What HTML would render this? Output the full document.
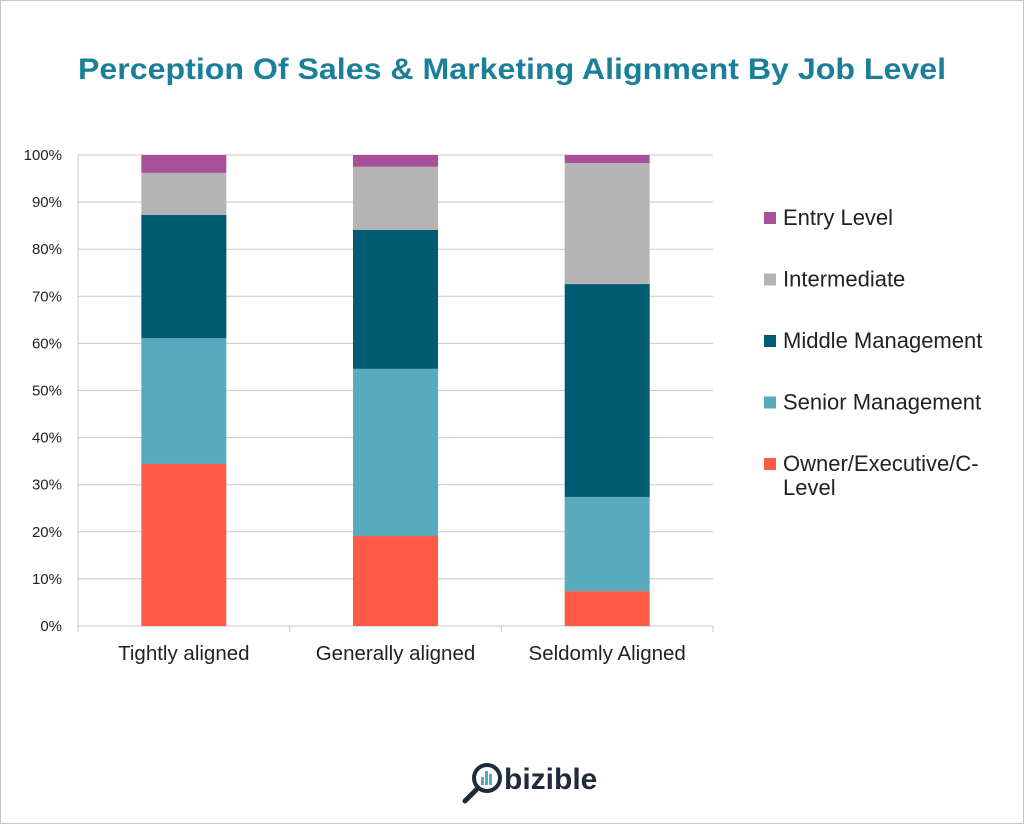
<!DOCTYPE html>
<html><head><meta charset="utf-8"><style>
body{margin:0;background:#fff;}
svg{display:block;font-family:"Liberation Sans",sans-serif;}
</style></head><body>
<svg id="chart" width="1024" height="824" viewBox="0 0 1024 824">
<rect x="0.5" y="0.5" width="1023" height="823" fill="#fff" stroke="#c8c8c8"/>
<text x="512" y="79" text-anchor="middle" font-size="30" font-weight="bold" fill="#1b7f99" textLength="868" lengthAdjust="spacingAndGlyphs">Perception Of Sales &amp; Marketing Alignment By Job Level</text>
<g id="grid"></g>
<g id="bars"></g>
<g id="legend"></g>
<g>
<circle cx="487" cy="778" r="13" fill="none" stroke="#1f2b3a" stroke-width="4"/>
<line x1="478" y1="788" x2="465" y2="801" stroke="#1f2b3a" stroke-width="5" stroke-linecap="round"/>
<rect x="481" y="777" width="3" height="8" fill="#58abbd"/><rect x="485" y="771" width="3" height="14" fill="#58abbd"/><rect x="489" y="774" width="3" height="11" fill="#58abbd"/>
<text x="504" y="789" font-size="30" font-weight="bold" fill="#1f2b3a">bizible</text>
</g>
</svg>
<script>
const categories=["Tightly aligned","Generally aligned","Seldomly Aligned"];
const seriesNames=["Owner/Executive/C-Level","Senior Management","Middle Management","Intermediate","Entry Level"];
const ownerVals=[34.4,19.1,7.4];
const seniorVals=[26.7,35.5,20.0];
const middleVals=[26.2,29.5,45.2];
const intermediateVals=[8.9,13.4,25.7];
const entryVals=[3.8,2.5,1.7];
const yTicks=[0,10,20,30,40,50,60,70,80,90,100];
const colors=["#fe5a45","#58abbd","#005a72","#b4b4b4","#a9509b"];
const series=[ownerVals,seniorVals,middleVals,intermediateVals,entryVals];
const NS="http://www.w3.org/2000/svg";
const X0=78,X1=713,Y0=626,Y1=155;
const y=v=>Y0-(v/100)*(Y0-Y1);
const band=(X1-X0)/categories.length;
const xc=i=>X0+band*(i+0.5);
const barW=85;
function mk(tag,attrs,parent){const e=document.createElementNS(NS,tag);for(const k in attrs)e.setAttribute(k,attrs[k]);parent.appendChild(e);return e;}
const grid=document.getElementById('grid');
yTicks.forEach(t=>{
 const l=mk('line',{x1:X0,x2:X1,y1:y(t),y2:y(t),stroke:'#c8c8c8','stroke-width':1},grid);
 
 
 const tx=mk('text',{x:X0-16,y:y(t)+5,'text-anchor':'end','font-size':15,fill:'#222'},grid);
 tx.textContent=t+'%';
 
 
});
const ax=mk('line',{x1:X0,x2:X0,y1:Y1,y2:Y0,stroke:'#c8c8c8'},grid);


for(let i=0;i<=categories.length;i++){
 const tk=mk('line',{x1:X0+band*i,x2:X0+band*i,y1:Y0,y2:Y0+6,stroke:'#c8c8c8'},grid);
 
 
}
const bars=document.getElementById('bars');
categories.forEach((c,i)=>{
 let acc=0;
 series.forEach((s,j)=>{
  const r=mk('rect',{x:xc(i)-barW/2,y:y(acc+s[i]),width:barW,height:y(acc)-y(acc+s[i]),fill:colors[j]},bars);
  
  
  acc+=s[i];
 });
 const t=mk('text',{x:xc(i),y:660,'text-anchor':'middle','font-size':20.5,fill:'#222'},bars);
 t.textContent=c;
 
 
});
const lg=document.getElementById('legend');
const order=[4,3,2,1,0];
order.forEach((j,k)=>{
 const ly=218+k*61.5;
 const g=mk('g',{},lg);
 
 
 mk('rect',{x:764,y:ly-6,width:12,height:12,fill:colors[j]},g);
 const t=mk('text',{x:783,y:ly+7,'font-size':22,fill:'#222'},g);
 if(j===0){
  mk('tspan',{x:783},t).textContent='Owner/Executive/C-';
  mk('tspan',{x:783,dy:24},t).textContent='Level';
 } else t.textContent=seriesNames[j];
});
</script>
</body></html>
